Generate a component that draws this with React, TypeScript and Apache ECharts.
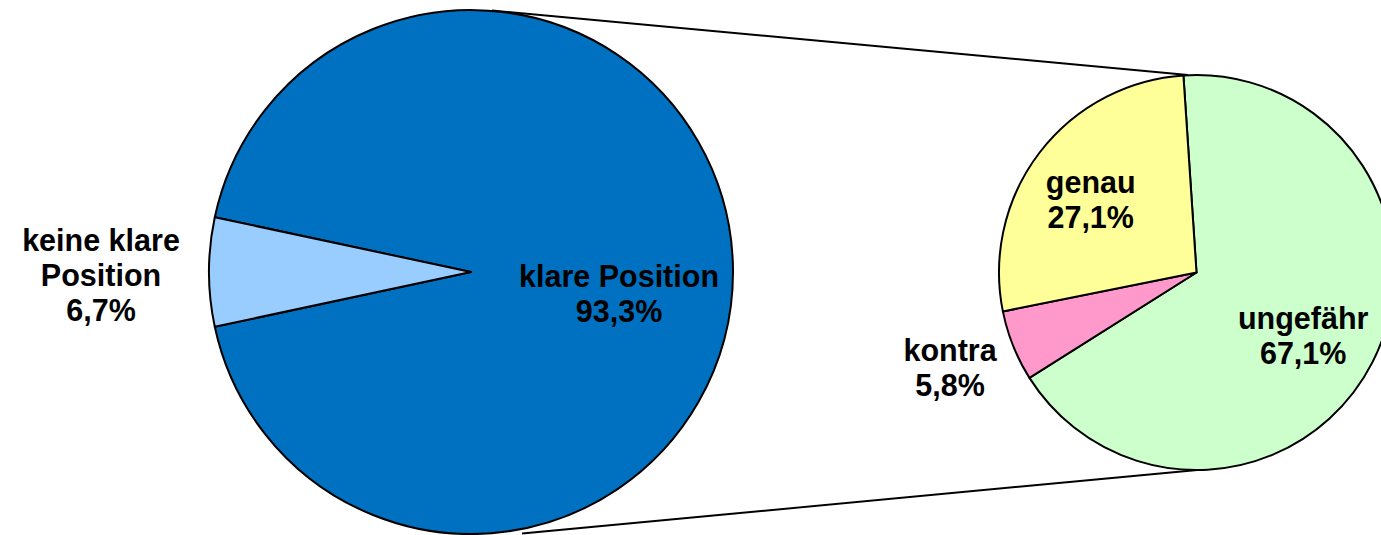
import React, { useEffect, useRef } from "react";
import * as echarts from "echarts";

const mainNames = ["klare Position", "keine klare\nPosition"];
const mainValues = [93.3, 6.7];
const mainColors = ["#0070C0", "#99CCFF"];
const mainOffsets = [[14, 21], [-236, 3]];

const subNames = ["ungefähr", "kontra", "genau"];
const subValues = [67.1, 5.8, 27.1];
const subColors = ["#CCFFCC", "#FF99CC", "#FFFF99"];
const subOffsets = [[16, 17], [-152, 57], [-25, -11]];

const fmt = (v: number) => v.toFixed(1).replace(".", ",") + "%";

const labelStyle = {
  show: true,
  position: "inside",
  color: "#000",
  fontFamily: "Arial, 'Liberation Sans', sans-serif",
  fontWeight: "bold",
  fontSize: 30.5,
  lineHeight: 35,
  align: "center",
};

export default function App() {
  const ref = useRef<HTMLDivElement>(null);
  useEffect(() => {
    document.body.style.margin = "0";
    const chart = echarts.init(ref.current!, null, { renderer: "svg" });
    chart.setOption({
      animation: false,
      backgroundColor: "#fff",
      graphic: [
        {
          type: "line",
          z: 0,
          shape: { x1: 492, y1: 10.5, x2: 1188, y2: 75 },
          style: { stroke: "#000", lineWidth: 2 },
        },
        {
          type: "line",
          z: 0,
          shape: { x1: 522, y1: 533.5, x2: 1208, y2: 469 },
          style: { stroke: "#000", lineWidth: 2 },
        },
      ],
      series: [
        {
          type: "pie",
          z: 5,
          center: [471, 272],
          radius: 262,
          startAngle: 167.94,
          clockwise: true,
          silent: true,
          labelLine: { show: false },
          itemStyle: { borderColor: "#000", borderWidth: 2 },
          data: mainValues.map((v, i) => ({
            value: v,
            name: mainNames[i],
            itemStyle: { color: mainColors[i] },
            label: {
              ...labelStyle,
              offset: mainOffsets[i],
              formatter: () => mainNames[i] + "\n" + fmt(v),
            },
          })),
        },
        {
          type: "pie",
          z: 5,
          center: [1196.5, 272.5],
          radius: 197.5,
          startAngle: 93.8,
          clockwise: true,
          silent: true,
          labelLine: { show: false },
          itemStyle: { borderColor: "#000", borderWidth: 2 },
          data: subValues.map((v, i) => ({
            value: v,
            name: subNames[i],
            itemStyle: { color: subColors[i] },
            label: {
              ...labelStyle,
              offset: subOffsets[i],
              formatter: () => subNames[i] + "\n" + fmt(v),
            },
          })),
        },
      ],
    });
    return () => chart.dispose();
  }, []);
  return (
    <div
      ref={ref}
      style={{ position: "absolute", left: 0, top: 0, width: 1381, height: 535 }}
    />
  );
}
